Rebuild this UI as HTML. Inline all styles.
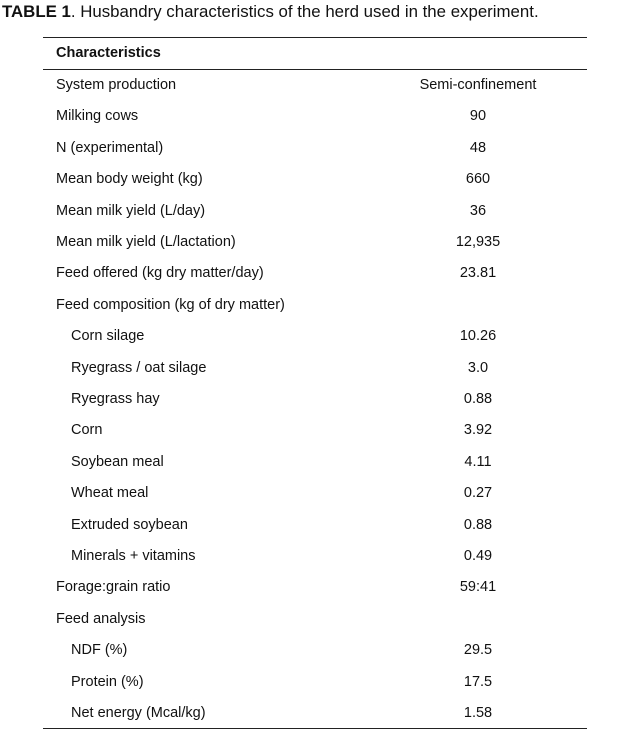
<!DOCTYPE html>
<html><head><meta charset="utf-8"><style>
body{margin:0;width:618px;height:734px;background:#fff;position:relative;overflow:hidden;font-family:"Liberation Sans Narrow","Liberation Sans",sans-serif;color:#111;font-size:14.5px}
.t{position:absolute;white-space:nowrap;line-height:1}
.line{position:absolute;left:43px;width:544px;height:1.3px;background:#222}
.v{position:absolute;width:140px;left:408px;text-align:center;line-height:1}
</style></head><body>
<div class="t" style="left:2px;top:3px;font-size:17px;transform:scaleX(0.99);transform-origin:0 0"><b>TABLE 1</b>. Husbandry characteristics of the herd used in the experiment.</div>
<div class="line" style="top:37px"></div>
<div class="t" style="left:56px;top:46px;font-weight:bold">Characteristics</div>
<div class="line" style="top:69px"></div>
<div class="line" style="top:728px"></div>
<div id="rows"></div>
<script>
const labels=["System production","Milking cows","N (experimental)","Mean body weight (kg)","Mean milk yield (L/day)","Mean milk yield (L/lactation)","Feed offered (kg dry matter/day)","Feed composition (kg of dry matter)","Corn silage","Ryegrass / oat silage","Ryegrass hay","Corn","Soybean meal","Wheat meal","Extruded soybean","Minerals + vitamins","Forage:grain ratio","Feed analysis","NDF (%)","Protein (%)","Net energy (Mcal/kg)"];
const values=["Semi-confinement","90","48","660","36","12,935","23.81","","10.26","3.0","0.88","3.92","4.11","0.27","0.88","0.49","59:41","","29.5","17.5","1.58"];
const indent=[0,0,0,0,0,0,0,0,1,1,1,1,1,1,1,1,0,0,1,1,1];
const root=document.getElementById('rows');
labels.forEach((l,i)=>{
  const y=78+i*31.4;
  const a=document.createElement('div');a.className='t';
  
  
  a.style.left=(indent[i]?71:56)+'px';a.style.top=y+'px';a.textContent=l;root.appendChild(a);
  if(values[i]){const b=document.createElement('div');b.className='v';
  
  
  b.style.top=y+'px';b.textContent=values[i];root.appendChild(b);}
});
</script>
</body></html>
